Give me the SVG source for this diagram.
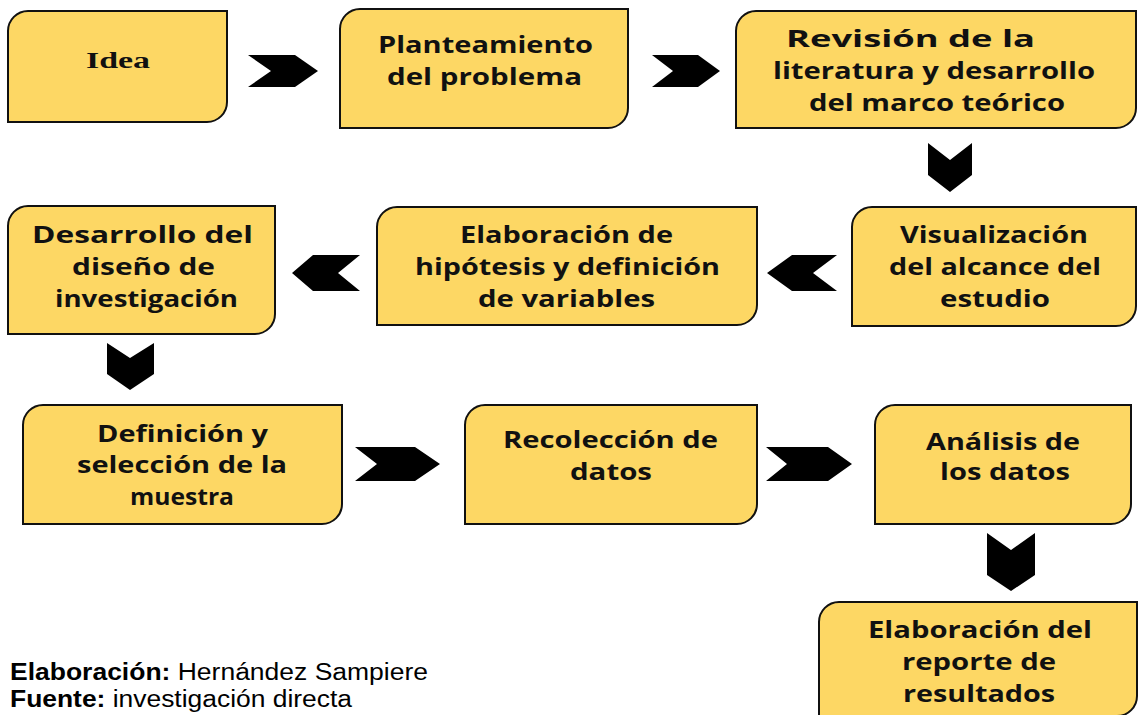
<svg xmlns="http://www.w3.org/2000/svg" width="1138" height="715" viewBox="0 0 1138 715">
<style>
.box{fill:#FDD764;stroke:#111;stroke-width:2}
.t{font-family:"Open Sans","Noto Sans",sans-serif;font-weight:bold;font-size:23px;fill:#111}
.ts{font-family:"Liberation Serif","Times New Roman",serif;font-weight:bold;font-size:24px;fill:#111}
.chev{fill:#000}
.f{font-family:"Liberation Sans",Arial,sans-serif;font-size:23px;fill:#000}
</style>
<rect width="1138" height="715" fill="#fff"/>
<g id="connectors">
<polygon class="chev" points="248,55 295,55 318,71 295,87 248,87 271,71"/>
<polygon class="chev" points="652,55 698,55 720,71 698,87 652,87 673,71"/>
<polygon class="chev" points="928,143 950,160 972,143 972,175 950,192 928,175"/>
<polygon class="chev" points="767,273 792,255 837,255 813,273 837,291 792,291"/>
<polygon class="chev" points="292,273 313,255 360,255 338,273 360,291 313,291"/>
<polygon class="chev" points="107,343 130,358 154,343 154,374 130,390 107,374"/>
<polygon class="chev" points="355,447 415,447 440,464 415,481 355,481 377,464"/>
<polygon class="chev" points="766,447 828,447 852,464 828,481 766,481 787,464"/>
<polygon class="chev" points="987,533 1011,550 1035,533 1035,575 1011,591 987,575"/>
</g>
<g id="n1">
<path class="box" d="M8,31 A20,20 0 0 1 28,11 H227 V102 A20,20 0 0 1 207,122 H8 Z"/>
<text class="ts" x="86" y="68" textLength="64" lengthAdjust="spacingAndGlyphs">Idea</text>
</g>
<g id="n2">
<path class="box" d="M340,29 A20,20 0 0 1 360,9 H628 V108 A20,20 0 0 1 608,128 H340 Z"/>
<text class="t" x="378" y="53" textLength="215" lengthAdjust="spacingAndGlyphs">Planteamiento</text>
<text class="t" x="387" y="85" textLength="195" lengthAdjust="spacingAndGlyphs">del problema</text>
</g>
<g id="n3">
<path class="box" d="M736,31 A20,20 0 0 1 756,11 H1136 V108 A20,20 0 0 1 1116,128 H736 Z"/>
<text class="t" x="786" y="47" textLength="249" lengthAdjust="spacingAndGlyphs">Revisión de la</text>
<text class="t" x="773" y="79" textLength="322" lengthAdjust="spacingAndGlyphs">literatura y desarrollo</text>
<text class="t" x="809" y="111" textLength="256" lengthAdjust="spacingAndGlyphs">del marco teórico</text>
</g>
<g id="n4">
<path class="box" d="M852,227 A20,20 0 0 1 872,207 H1136 V306 A20,20 0 0 1 1116,326 H852 Z"/>
<text class="t" x="900" y="243" textLength="188" lengthAdjust="spacingAndGlyphs">Visualización</text>
<text class="t" x="889" y="275" textLength="212" lengthAdjust="spacingAndGlyphs">del alcance del</text>
<text class="t" x="940" y="307" textLength="110" lengthAdjust="spacingAndGlyphs">estudio</text>
</g>
<g id="n5">
<path class="box" d="M377,227 A20,20 0 0 1 397,207 H757 V305 A20,20 0 0 1 737,325 H377 Z"/>
<text class="t" x="460" y="243" textLength="213" lengthAdjust="spacingAndGlyphs">Elaboración de</text>
<text class="t" x="415" y="275" textLength="305" lengthAdjust="spacingAndGlyphs">hipótesis y definición</text>
<text class="t" x="478" y="307" textLength="177" lengthAdjust="spacingAndGlyphs">de variables</text>
</g>
<g id="n6">
<path class="box" d="M8,226 A20,20 0 0 1 28,206 H275 V314 A20,20 0 0 1 255,334 H8 Z"/>
<text class="t" x="32" y="243" textLength="221" lengthAdjust="spacingAndGlyphs">Desarrollo del</text>
<text class="t" x="72" y="275" textLength="143" lengthAdjust="spacingAndGlyphs">diseño de</text>
<text class="t" x="55" y="307" textLength="183" lengthAdjust="spacingAndGlyphs">investigación</text>
</g>
<g id="n7">
<path class="box" d="M23,425 A20,20 0 0 1 43,405 H342 V504 A20,20 0 0 1 322,524 H23 Z"/>
<text class="t" x="97" y="442" textLength="171" lengthAdjust="spacingAndGlyphs">Definición y</text>
<text class="t" x="77" y="473" textLength="210" lengthAdjust="spacingAndGlyphs">selección de la</text>
<text class="t" x="130" y="505" textLength="104" lengthAdjust="spacingAndGlyphs">muestra</text>
</g>
<g id="n8">
<path class="box" d="M465,425 A20,20 0 0 1 485,405 H757 V504 A20,20 0 0 1 737,524 H465 Z"/>
<text class="t" x="503" y="448" textLength="215" lengthAdjust="spacingAndGlyphs">Recolección de</text>
<text class="t" x="570" y="480" textLength="82" lengthAdjust="spacingAndGlyphs">datos</text>
</g>
<g id="n9">
<path class="box" d="M875,425 A20,20 0 0 1 895,405 H1131 V504 A20,20 0 0 1 1111,524 H875 Z"/>
<text class="t" x="926" y="450" textLength="154" lengthAdjust="spacingAndGlyphs">Análisis de</text>
<text class="t" x="940" y="480" textLength="130" lengthAdjust="spacingAndGlyphs">los datos</text>
</g>
<g id="n10">
<path class="box" d="M819,622 A20,20 0 0 1 839,602 H1137 V696 A20,20 0 0 1 1117,716 H819 Z"/>
<text class="t" x="868" y="638" textLength="224" lengthAdjust="spacingAndGlyphs">Elaboración del</text>
<text class="t" x="902" y="670" textLength="154" lengthAdjust="spacingAndGlyphs">reporte de</text>
<text class="t" x="903" y="702" textLength="152" lengthAdjust="spacingAndGlyphs">resultados</text>
</g>
<g id="footer">
<text class="f" x="10" y="680" textLength="418" lengthAdjust="spacingAndGlyphs"><tspan font-weight="bold">Elaboración:</tspan> Hernández Sampiere</text>
<text class="f" x="10" y="707" textLength="342" lengthAdjust="spacingAndGlyphs"><tspan font-weight="bold">Fuente:</tspan> investigación directa</text>
</g>
</svg>
